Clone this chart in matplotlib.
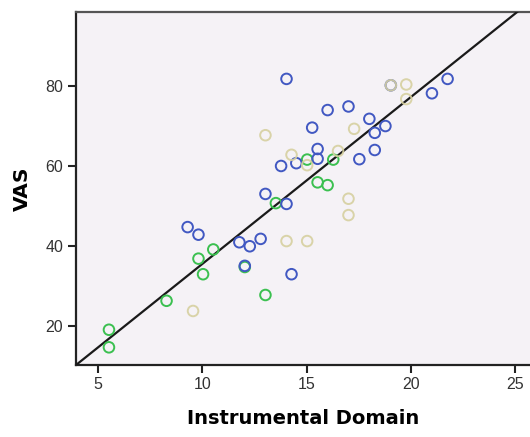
import matplotlib
matplotlib.use("Agg")
import matplotlib.pyplot as plt

# Instrumental domain score vs. VAS, three groups
blue_x = [14.03, 19.03, 21.75, 21.0, 17.0, 16.0, 18.0, 15.26, 18.77, 18.26, 15.52, 18.26,
          17.52, 15.52, 14.5, 13.77, 13.02, 14.03, 9.29, 9.81, 11.77, 12.27, 12.79, 12.03, 14.27]
blue_y = [81.8, 80.2, 81.8, 78.2, 74.9, 74.0, 71.8, 69.6, 70.0, 68.3, 64.25, 64.0,
          61.7, 61.8, 60.7, 60.0, 53.0, 50.5, 44.7, 42.8, 40.9, 39.9, 41.75, 35.0, 32.9]

green_x = [15.02, 16.27, 15.52, 16.0, 13.52, 10.52, 9.81, 10.03, 12.03, 13.02, 8.28, 5.52, 5.52]
green_y = [61.6, 61.6, 55.9, 55.2, 50.7, 39.1, 36.8, 32.9, 34.7, 27.7, 26.25, 19.0, 14.6]

beige_x = [19.03, 19.77, 19.77, 17.27, 13.02, 14.27, 16.5, 15.02, 17.0, 17.0, 14.03, 15.02, 9.55]
beige_y = [80.2, 80.4, 76.75, 69.3, 67.7, 62.8, 63.75, 60.2, 51.8, 47.7, 41.2, 41.2, 23.7]

# reference line  VAS = intercept + slope * score
line_intercept = -6.3
line_slope = 4.18

x_ticks = [5, 10, 15, 20, 25]
y_ticks = [20, 40, 60, 80]

fig = plt.figure(figsize=(5.30, 4.37), dpi=100)
ax = fig.add_axes([0.143, 0.165, 0.857, 0.808])
ax.set_facecolor("#F5F2F6")

ax.axline((0, line_intercept), slope=line_slope, color="#1a1a1a", lw=1.6, zorder=3)

mk = dict(marker="o", s=58, facecolors="none", linewidths=1.4, zorder=4)
ax.scatter(green_x, green_y, edgecolors="#3BC050", **mk)
ax.scatter(blue_x, blue_y, edgecolors="#4158C2", **mk)
ax.scatter(beige_x, beige_y, edgecolors="#D6D0A0", alpha=0.9, **mk)

ax.set_xlim(3.93, 25.7)
ax.set_ylim(10.2, 98.6)
ax.set_xticks(x_ticks)
ax.set_yticks(y_ticks)

for s in ["left", "bottom"]:
    ax.spines[s].set_linewidth(1.6)
    ax.spines[s].set_color("#222222")
ax.spines["top"].set_linewidth(1.6)
ax.spines["top"].set_color("#555555")
ax.spines["right"].set_visible(False)

ax.tick_params(axis="both", direction="out", length=6, width=1.5, color="#222222",
               labelsize=11.5, labelcolor="#333333", pad=3)
for lab in ax.get_xticklabels() + ax.get_yticklabels():
    lab.set_fontfamily("Liberation Sans")

ax.set_xlabel("Instrumental Domain", fontsize=14, fontweight="bold", labelpad=12,
              family="DejaVu Sans")
ax.set_ylabel("VAS", fontsize=14.5, fontweight="bold", labelpad=10, family="DejaVu Sans")

fig.savefig("out.png", dpi=100)
